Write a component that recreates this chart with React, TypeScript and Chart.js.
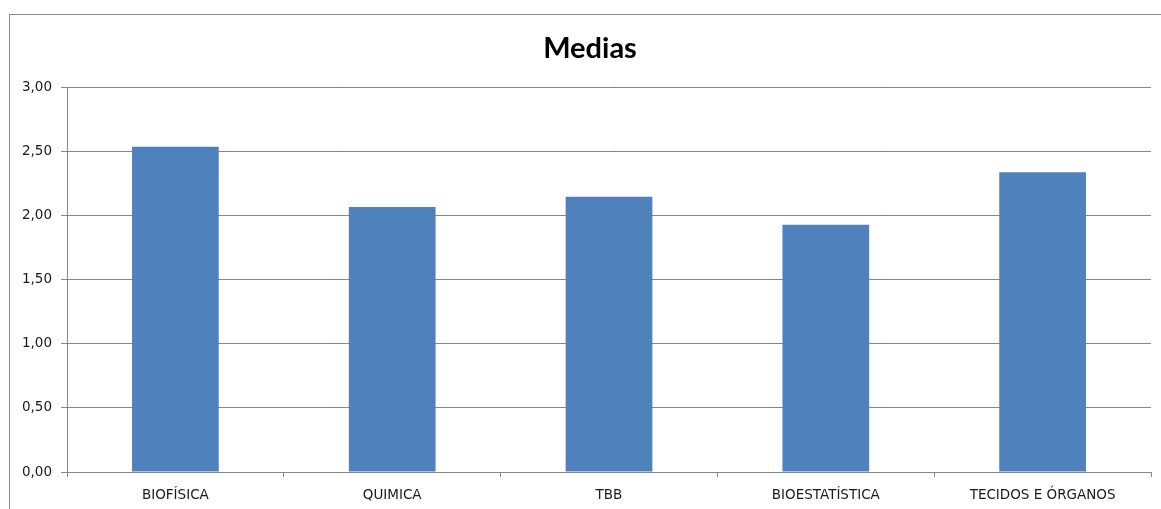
import React, { useEffect, useRef } from "react";
import { Chart, registerables } from "chart.js";

Chart.register(...registerables);

const categories = ["BIOFÍSICA", "QUIMICA", "TBB", "BIOESTATÍSTICA", "TECIDOS E ÓRGANOS"];
const medias = [2.54, 2.07, 2.15, 1.93, 2.34];
const titleText = "Medias";

const titleShift = {
  id: "titleShift",
  afterLayout(chart: any) {
    const tb = chart.titleBlock;
    if (tb) {
      tb.left += 19;
    }
  },
};

export default function App() {
  const ref = useRef<HTMLCanvasElement | null>(null);

  useEffect(() => {
    if (!ref.current) return;
    const chart = new Chart(ref.current, {
      type: "bar",
      data: {
        labels: categories,
        datasets: [
          {
            label: titleText,
            data: medias,
            backgroundColor: "#4F81BD",
            borderWidth: 0,
            categoryPercentage: 1,
            barPercentage: 0.4,
          },
        ],
      },
      plugins: [titleShift],
      options: {
        animation: false,
        responsive: false,
        maintainAspectRatio: false,
        layout: { padding: { left: 0, right: 10, top: 0, bottom: 0 } },
        plugins: {
          legend: { display: false },
          tooltip: { enabled: false },
          title: {
            display: true,
            text: titleText,
            color: "#000",
            font: { family: "Lato", size: 29, weight: "bold" },
            padding: { top: 16, bottom: 22 },
          },
        },
        scales: {
          x: {
            grid: {
              display: true,
              drawOnChartArea: false,
              drawTicks: true,
              tickLength: 5,
              offset: true,
              color: "#868686",
            },
            border: { display: true, color: "#868686", width: 1 },
            ticks: {
              color: "#1a1a1a",
              font: { family: "DejaVu Sans", size: 13.5 },
              padding: 10,
              maxRotation: 0,
              autoSkip: false,
            },
            afterFit: (scale: any) => {
              scale.height = 37;
            },
          },
          y: {
            min: 0,
            max: 3,
            ticks: {
              stepSize: 0.5,
              color: "#1a1a1a",
              font: { family: "DejaVu Sans", size: 13.5 },
              padding: 9,
              callback: (v: any) => Number(v).toFixed(2).replace(".", ","),
            },
            grid: {
              color: "#868686",
              drawTicks: true,
              tickLength: 6,
            },
            border: { display: true, color: "#868686", width: 1 },
            afterFit: (scale: any) => {
              scale.width = 57;
            },
          },
        },
      },
    });
    return () => chart.destroy();
  }, []);

  return (
    <div
      style={{
        position: "absolute",
        left: 9,
        top: 14,
        width: 1152,
        height: 495,
        borderLeft: "1px solid #8a8a8a",
        borderTop: "1px solid #8a8a8a",
        background: "#fff",
      }}
    >
      <canvas ref={ref} width={1151} height={494} style={{ display: "block" }} />
    </div>
  );
}
